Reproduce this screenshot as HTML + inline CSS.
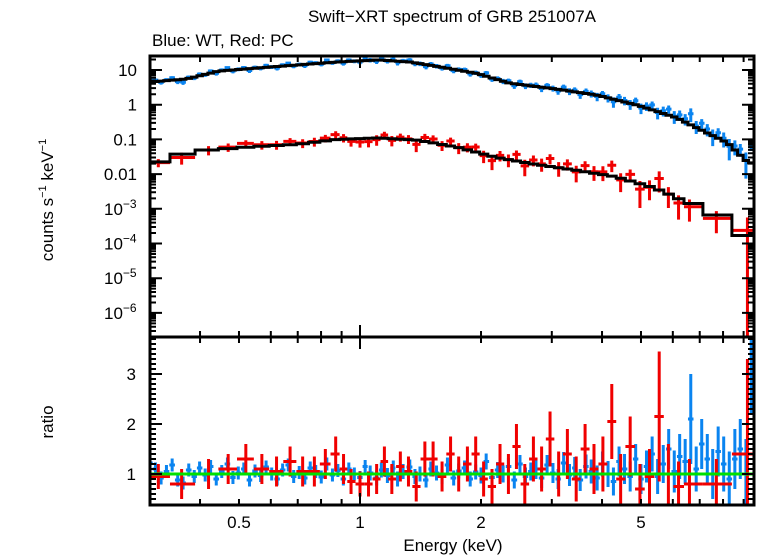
<!DOCTYPE html>
<html><head><meta charset="utf-8"><style>
body{margin:0;background:#fff;}
svg{display:block;font-family:"Liberation Sans",Arial,sans-serif;}
</style></head><body>
<svg id="chart" width="758" height="556" viewBox="0 0 758 556" xmlns="http://www.w3.org/2000/svg">
<rect width="758" height="556" fill="#fff"/>
<text x="452" y="22" font-size="17" text-anchor="middle">Swift−XRT spectrum of GRB 251007A</text>
<text x="152" y="46" font-size="17">Blue: WT, Red: PC</text>
<text transform="translate(53,200) rotate(-90)" font-size="17" text-anchor="middle">counts s<tspan font-size="11" dy="-7">−1</tspan><tspan dy="7"> keV</tspan><tspan font-size="11" dy="-7">−1</tspan></text>
<text transform="translate(53,422) rotate(-90)" font-size="17" text-anchor="middle">ratio</text>
<text x="453" y="551" font-size="17" text-anchor="middle">Energy (keV)</text>
<g id="marks"></g>
</svg>
<script>
// ---- data ----
const blueE=[0.300,0.310,0.320,0.330,0.341,0.352,0.363,0.375,0.387,0.399,
0.412,0.425,0.439,0.453,0.468,0.483,0.498,0.514,0.531,0.548,
0.566,0.584,0.603,0.622,0.642,0.663,0.684,0.706,0.729,0.752,
0.776,0.801,0.827,0.854,0.881,0.909,0.938,0.968,1.00,1.03,
1.06,1.10,1.13,1.17,1.21,1.24,1.28,1.33,1.37,1.41,
1.46,1.50,1.55,1.60,1.65,1.71,1.76,1.82,1.88,1.94,
2.00,2.06,2.13,2.20,2.27,2.34,2.42,2.50,2.58,2.66,
2.74,2.83,2.92,3.02,3.11,3.21,3.32,3.42,3.53,3.65,
3.76,3.89,4.01,4.14,4.27,4.41,4.55,4.70,4.85,5.00,
5.16,5.33,5.50,5.68,5.86,6.05,6.24,6.44,6.65,6.86,
7.08,7.31,7.54,7.78,8.03,8.29,8.56,8.83,9.12,9.40];
const blueRatio=[1.22,1.10,0.92,1.05,1.18,0.88,0.82,1.08,0.95,1.12,
0.98,1.15,0.90,1.05,1.20,0.93,1.02,1.10,0.88,1.06,
0.97,1.14,1.00,0.90,1.08,1.18,0.95,1.03,0.92,1.12,
1.05,0.94,1.20,0.98,1.07,0.90,1.10,1.00,0.93,1.15,
1.02,0.92,1.08,0.97,1.12,0.90,1.05,1.14,0.95,1.00,
0.88,1.10,1.02,0.95,1.18,0.92,1.06,1.12,0.90,1.04,
0.97,1.25,0.93,1.08,1.00,1.15,0.88,1.20,0.95,1.05,
1.10,0.92,1.18,1.02,0.90,1.22,0.98,1.12,0.88,1.15,
1.05,0.92,1.20,1.00,0.85,1.25,1.10,0.95,1.30,0.90,
1.15,1.40,0.95,1.20,1.50,1.05,1.35,1.25,2.10,1.10,
1.60,1.30,1.00,1.45,1.20,0.90,1.30,1.50,1.00,3.00];
const blueErr=[0.15,0.13,0.13,0.13,0.13,0.13,0.13,0.13,0.13,0.13,
0.13,0.13,0.13,0.13,0.13,0.13,0.13,0.13,0.13,0.13,
0.13,0.13,0.13,0.13,0.13,0.13,0.13,0.13,0.13,0.13,
0.13,0.13,0.13,0.13,0.13,0.13,0.13,0.13,0.13,0.13,
0.15,0.15,0.15,0.15,0.15,0.15,0.15,0.15,0.15,0.15,
0.15,0.15,0.15,0.15,0.15,0.15,0.15,0.15,0.15,0.15,
0.16,0.16,0.16,0.16,0.17,0.17,0.17,0.18,0.18,0.18,
0.2,0.2,0.2,0.2,0.2,0.22,0.22,0.22,0.22,0.24,
0.24,0.25,0.25,0.26,0.28,0.3,0.3,0.3,0.3,0.3,
0.32,0.35,0.35,0.38,0.4,0.42,0.45,0.45,0.9,0.45,
0.5,0.5,0.5,0.5,0.55,0.55,0.6,0.6,0.7,0.8];
const blueModelE=[0.30,0.37,0.445,0.56,0.70,0.88,1.11,1.33,1.6,1.95,2.35,3.09,3.87,4.85,6.1,7.1,8.2,9.1,9.5];
const blueModelV=[4.5,5.5,9.3,11.5,14,17,19.5,17,12,8,4.2,2.8,1.9,1.0,0.43,0.18,0.08,0.025,0.02];
const redE=[0.315,0.36,0.42,0.47,0.52,0.57,0.62,0.67,0.72,0.77,0.82,0.87,0.91,0.95,1.00,1.05,1.10,1.15,1.20,1.26,1.32,1.38,1.45,1.52,1.60,1.68,1.76,1.85,1.94,2.03,2.13,2.23,2.34,2.45,2.57,2.70,2.83,2.97,3.12,3.28,3.45,3.63,3.82,4.02,4.23,4.45,4.70,4.97,5.25,5.55,5.85,6.20,6.60,7.70,9.20];
const redRatio=[0.95,0.80,1.00,1.10,1.30,1.10,1.05,1.25,1.05,1.05,1.20,1.40,1.10,0.85,0.80,0.80,0.90,1.25,0.90,1.15,1.05,0.75,1.30,1.30,0.95,1.40,1.00,1.20,1.40,0.90,0.75,1.20,1.00,1.55,0.80,1.30,1.10,1.70,1.00,1.40,0.90,1.50,1.10,1.20,2.05,0.90,1.55,0.70,0.95,2.15,1.00,0.75,0.80,0.80,1.40];
const redErr=[0.25,0.30,0.30,0.3,0.3,0.3,0.3,0.3,0.3,0.3,0.3,0.35,0.3,0.25,0.25,0.25,0.3,0.3,0.3,0.3,0.3,0.3,0.35,0.35,0.3,0.35,0.35,0.35,0.35,0.35,0.35,0.4,0.4,0.45,0.4,0.45,0.45,0.55,0.45,0.5,0.45,0.5,0.5,0.55,0.75,0.5,0.6,0.5,0.55,1.3,0.6,0.5,0.5,0.5,1.9];
const redModelE=[0.30,0.33,0.38,0.445,0.56,0.70,0.88,1.11,1.39,1.74,2.19,2.74,3.43,4.3,5.4,6.3,7.7,9.2,9.5];
const redModelV=[0.018,0.028,0.045,0.052,0.063,0.072,0.1,0.11,0.095,0.06,0.03,0.019,0.013,0.0085,0.004,0.0018,0.00066,0.00017,0.00017];
const yMajor=[10,1,0.1,0.01,1e-3,1e-4,1e-5,1e-6];
const yMajorLabels=["10","1","0.1","0.01","10|−3","10|−4","10|−5","10|−6"];
const ratioTicks=[1,2,3];
const xLabels=[0.5,1,2,5];

// ---- geometry ----
const L=150,R=754,T1=56,B1=337,B2=505;
const X1=360,XD=402;
const xs=e=>X1+Math.log10(e)*XD;
const ys=v=>70+(1-Math.log10(v))*34.7;
const yr=r=>474-(r-1)*50;
const NS="http://www.w3.org/2000/svg";
const g=document.getElementById('marks');
function mk(tag,attrs,parent){const el=document.createElementNS(NS,tag);for(const k in attrs)el.setAttribute(k,attrs[k]);(parent||g).appendChild(el);return el;}
function interp(E,ME,MV){
  if(E<=ME[0])return MV[0];
  for(let i=1;i<ME.length;i++){if(E<=ME[i]){const t=(Math.log(E)-Math.log(ME[i-1]))/(Math.log(ME[i])-Math.log(ME[i-1]));return Math.exp(Math.log(MV[i-1])+t*(Math.log(MV[i])-Math.log(MV[i-1])));}}
  return MV[MV.length-1];
}
function edges(E){const ed=[];ed.push(Math.max(0.297,E[0]*E[0]/Math.sqrt(E[0]*E[1])));
  for(let i=1;i<E.length;i++)ed.push(Math.sqrt(E[i-1]*E[i]));
  ed.push(Math.min(9.55,E[E.length-1]*E[E.length-1]/Math.sqrt(E[E.length-2]*E[E.length-1])));return ed;}
const clip=mk('clipPath',{id:'c1'});mk('rect',{x:L,y:T1,width:R-L,height:B1-T1},clip);
const clip2=mk('clipPath',{id:'c2'});mk('rect',{x:L,y:B1,width:R-L,height:B2-B1},clip2);
const topG=mk('g',{'clip-path':'url(#c1)'});


const botG=mk('g',{'clip-path':'url(#c2)'});



function series(E,Rt,Er,ME,MV,color,name){
  const ed=edges(E);
  let path='';
  for(let i=0;i<E.length;i++){
    const m=interp(E[i],ME,MV);
    const er=(Er[i]===undefined)?0.3:Er[i];
    const x0=xs(ed[i]),x1=xs(ed[i+1]),xc=xs(E[i]);
    const v=m*Rt[i],lo=Math.max(1e-9,m*(Rt[i]-er)),hi=m*(Rt[i]+er);
    const p=mk('path',{d:`M${x0},${ys(v)}H${x1}M${xc},${ys(hi)}V${Math.min(400,ys(lo))}`,stroke:color,'stroke-width':3,fill:'none'},topG);
    
    
    const rl=Math.max(0,Rt[i]-er);
    const q=mk('path',{d:`M${x0},${yr(Rt[i])}H${x1}M${xc},${yr(Rt[i]+er)}V${Math.min(560,yr(rl))}`,stroke:color,'stroke-width':3,fill:'none'},botG);
    
    
    path+=(i?'L':'M')+x0+','+ys(m)+'H'+x1;
  }
  return path;
}
const bp=series(blueE,blueRatio,blueErr,blueModelE,blueModelV,'#0a84f0','wt');
const rp=series(redE,redRatio,redErr,redModelE,redModelV,'#f00000','pc');
const bm=mk('path',{d:bp,stroke:'#000','stroke-width':3,fill:'none'},topG);


const rm=mk('path',{d:rp,stroke:'#000','stroke-width':3,fill:'none'},topG);


const gl=mk('line',{x1:L,x2:R,y1:yr(1),y2:yr(1),stroke:'#00e000','stroke-width':3});



// ---- axes ----
let tk='';
for(let d=-7;d<=1;d++)for(let k=1;k<10;k++){const v=k*Math.pow(10,d);const y=ys(v);if(y<T1||y>B1)continue;const len=k==1?12:6;tk+=`M${L},${y}h${len}M${R},${y}h${-len}`;}
for(let r=0.5;r<3.8;r+=0.1){const y=yr(r);if(y<B1||y>B2)continue;const maj=Math.abs(r-Math.round(r))<0.01;const len=maj?12:6;tk+=`M${L},${y}h${len}M${R},${y}h${-len}`;}
const xt=[0.3,0.4,0.5,0.6,0.7,0.8,0.9,1,2,3,4,5,6,7,8,9];
xt.forEach(e=>{const x=xs(e);if(x<L||x>R)return;const len=e==1?12:6;tk+=`M${x},${T1}v${len}M${x},${B1}v${-len}M${x},${B1}v${len}M${x},${B2}v${-len}`;});
const ticks=mk('path',{d:tk,stroke:'#000','stroke-width':2,fill:'none'});


const fr=mk('path',{d:`M${L},${T1}H${R}V${B2}H${L}ZM${L},${B1}H${R}`,stroke:'#000','stroke-width':3,fill:'none'});


yMajor.forEach((v,i)=>{const parts=yMajorLabels[i].split('|');
  const t=mk('text',{x:137,y:ys(v)+6,'font-size':17,'text-anchor':'end'});
  
  
  t.textContent=parts[0];
  if(parts.length>1){const s=mk('tspan',{'font-size':12,dy:-7},t);s.textContent=parts[1];t.setAttribute('text-anchor','start');t.setAttribute('x',104);}
});
ratioTicks.forEach(r=>{const t=mk('text',{x:136,y:yr(r)+6,'font-size':17,'text-anchor':'end'});
  
  
  t.textContent=String(r);});
xLabels.forEach(e=>{const t=mk('text',{x:xs(e),y:528,'font-size':17,'text-anchor':'middle'});
  
  
  t.textContent=String(e);});
</script>
</body></html>
